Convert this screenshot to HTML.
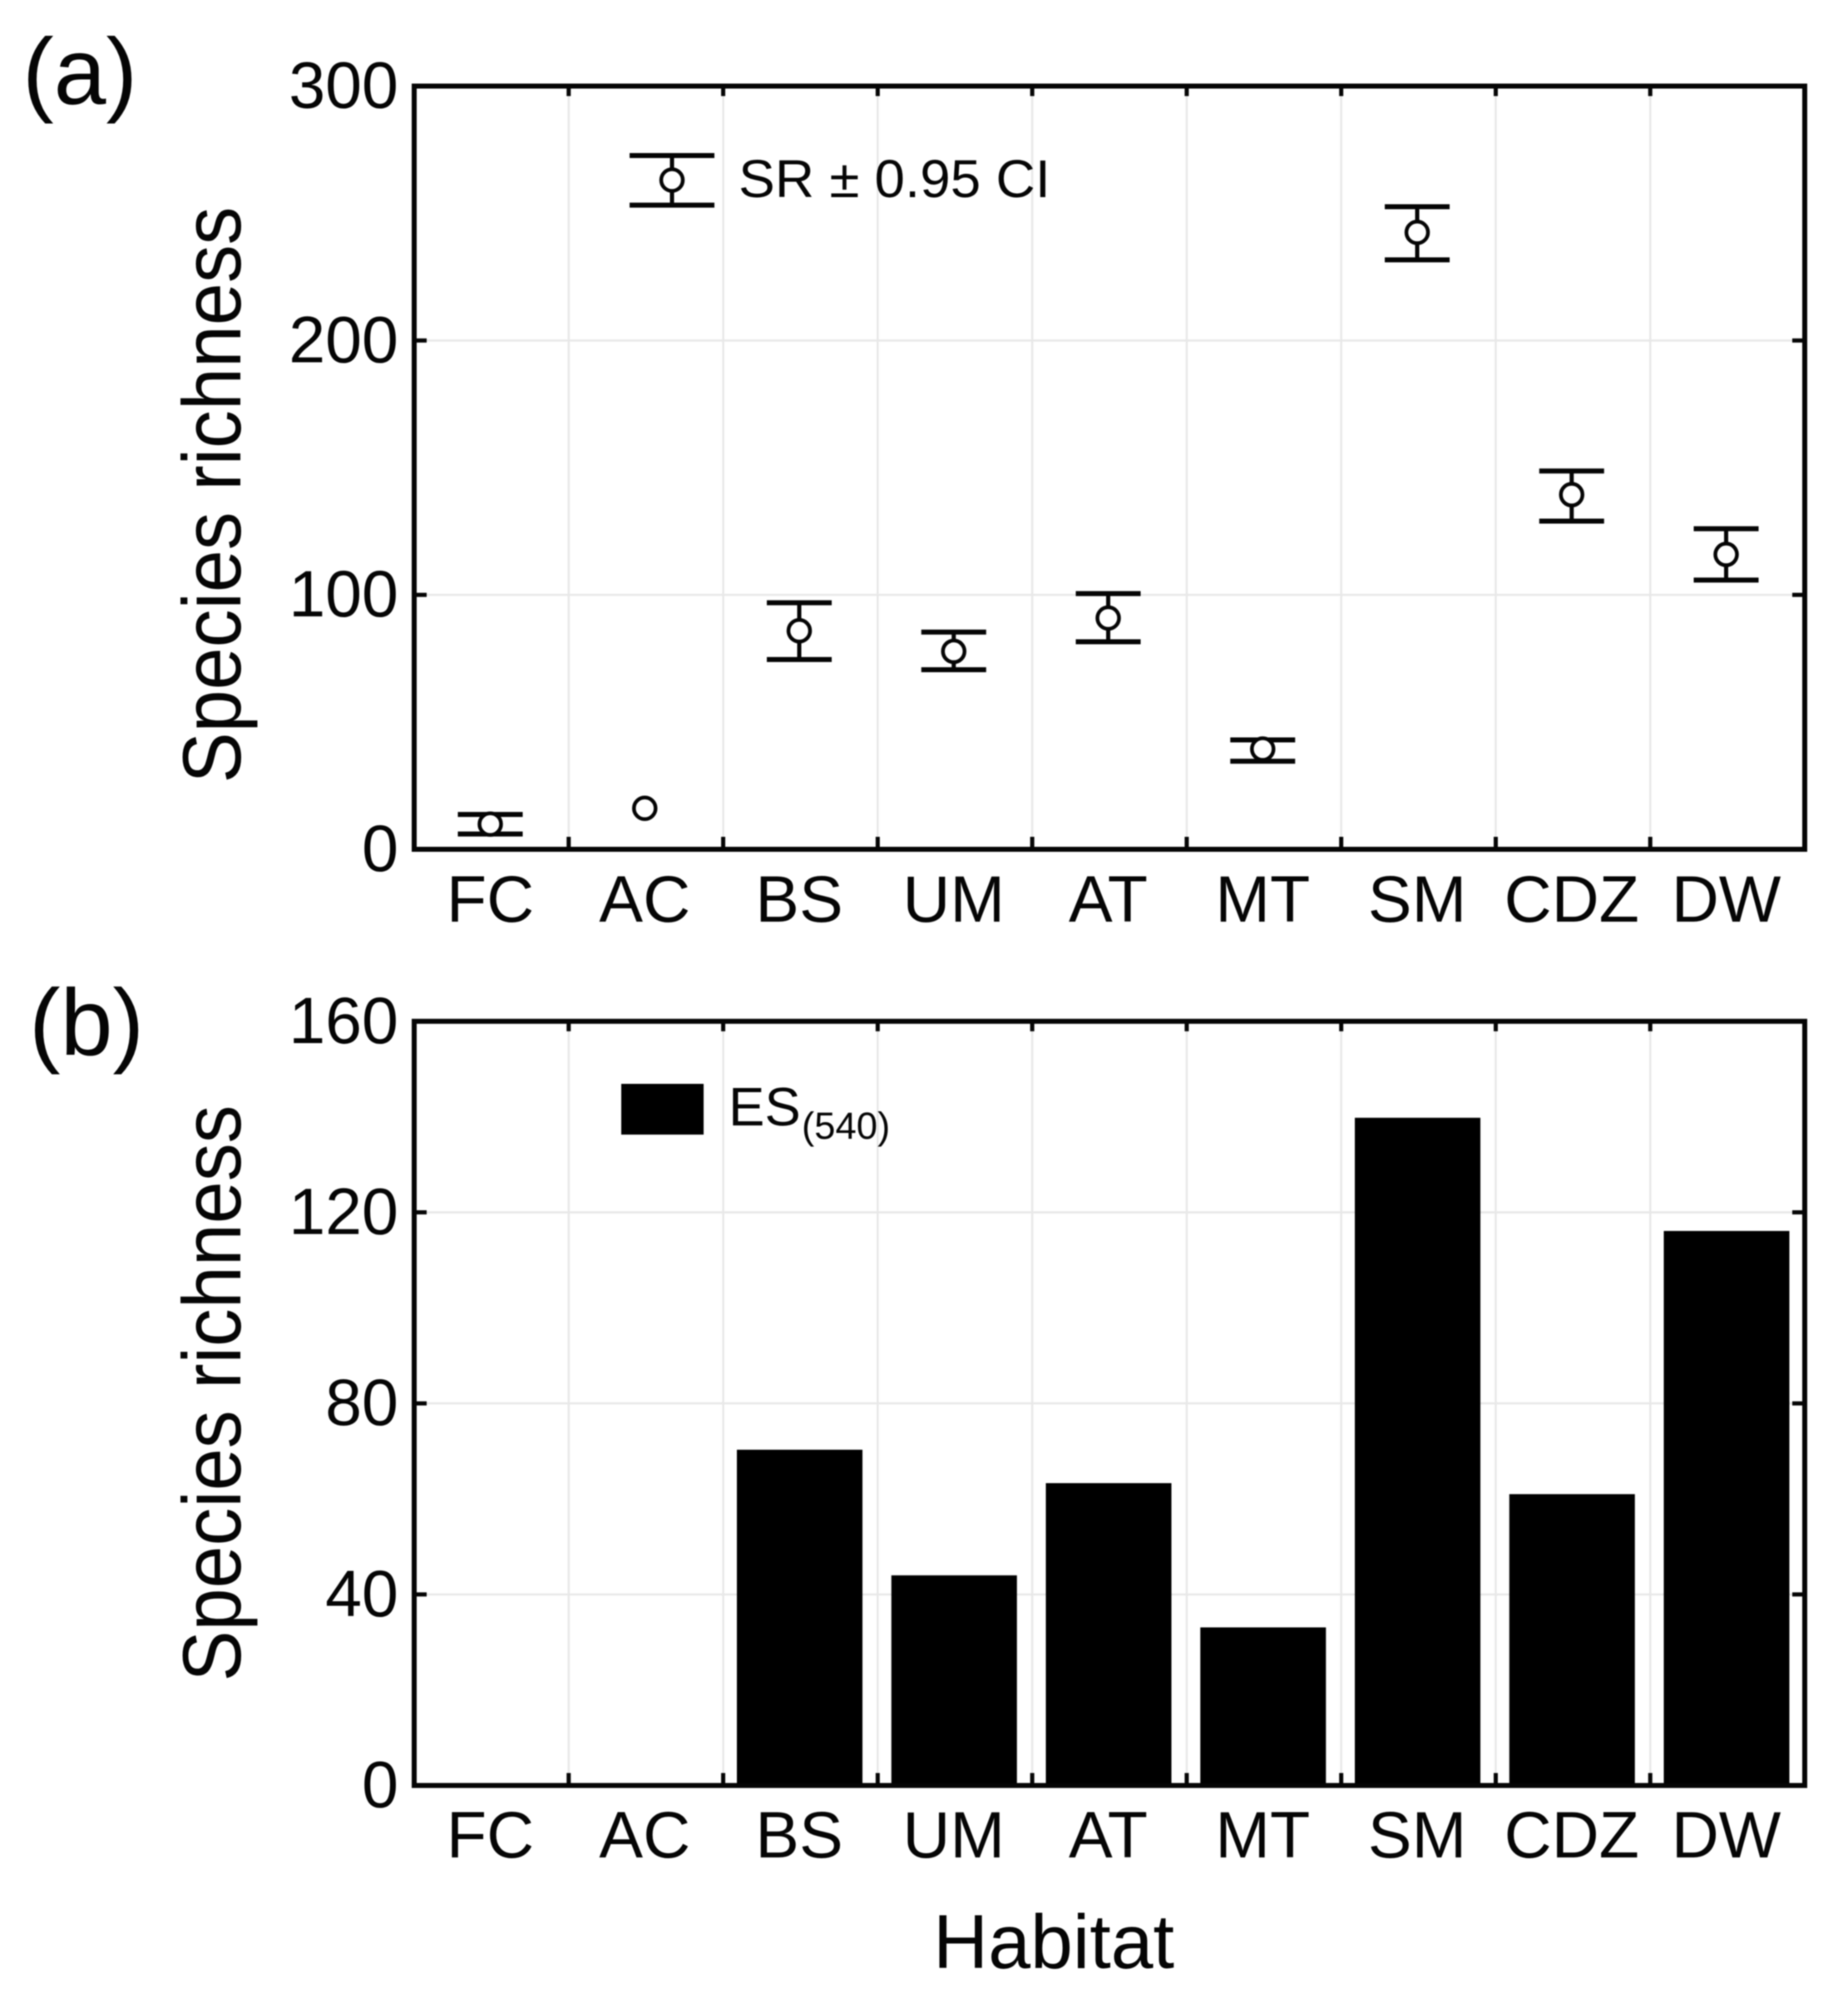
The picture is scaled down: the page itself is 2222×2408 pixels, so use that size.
<!DOCTYPE html>
<html lang="en">
<head>
<meta charset="utf-8">
<title>Species richness by habitat</title>
<style>
  html, body { margin: 0; padding: 0; background: #fff; }
  body { width: 2222px; height: 2408px; overflow: hidden; }
  svg { display: block; filter: blur(0.8px); }
  text { font-family: "Liberation Sans", Arial, sans-serif; fill: #050505; }
</style>
</head>
<body>
<svg id="figure" xmlns="http://www.w3.org/2000/svg" width="2222" height="2408" viewBox="0 0 2222 2408"></svg>
<script>
const categories = ['FC', 'AC', 'BS', 'UM', 'AT', 'MT', 'SM', 'CDZ', 'DW'];
const ticksA = [0, 100, 200, 300];
const ticksB = [0, 40, 80, 120, 160];
const srMean = [9.9, 16.1, 85.9, 77.8, 90.9, 39.4, 242.5, 139.4, 115.9];
const srHigh = [13.7, null, 96.9, 85.4, 100.5, 43, 252.6, 148.7, 126];
const srLow = [6, null, 74.6, 70.6, 81.6, 34.6, 231.7, 129, 105.8];
const es540 = [0, 0, 70.3, 44, 63.3, 33.1, 139.8, 61, 116.1];

const NS = 'http://www.w3.org/2000/svg';
const svg = document.getElementById('figure');
const INK = '#050505';
const GRID = '#e8e8e8';
const LEFT = 498;
const RIGHT = 2170;

function node(tag, attrs, parent) {
  const el = document.createElementNS(NS, tag);
  for (const k in attrs) el.setAttribute(k, attrs[k]);
  (parent || svg).appendChild(el);
  return el;
}
function xCenter(i) { return 589.5 + i * 185.75; }
function xBoundary(i) { return LEFT + i * (RIGHT - LEFT) / categories.length; }
function scaleY(top, bottom, max) {
  return function (v) { return bottom - (v / max) * (bottom - top); };
}
function line(x1, y1, x2, y2, stroke, width, parent) {
  return node('line', { x1: x1, y1: y1, x2: x2, y2: y2, stroke: stroke, 'stroke-width': width }, parent);
}

function drawAxes(panel, top, bottom, ticks, y, labelBaseline) {
  const g = node('g', {});
  
  

  ticks.slice(1, -1).forEach(function (t) {
    const gl = line(LEFT, y(t), RIGHT, y(t), GRID, 2.5, g);
    
    
  });
  categories.slice(1).forEach(function (c, i) {
    const gl = line(xBoundary(i + 1), top, xBoundary(i + 1), bottom, GRID, 2.5, g);
    
    
  });
  ticks.forEach(function (t) {
    const label = node('text', { x: 479, y: y(t) + 26, 'text-anchor': 'end', 'font-size': 79 }, g);
    label.textContent = String(t);
    
    
  });
  categories.forEach(function (c, i) {
    const label = node('text', { x: xCenter(i), y: labelBaseline, 'text-anchor': 'middle', 'font-size': 79 }, g);
    label.textContent = c;
    
    
  });
  return g;
}

function drawFrame(panel, top, bottom, ticks, y) {
  const g = node('g', {});
  
  
  ticks.slice(1, -1).forEach(function (t) {
    const a = line(LEFT, y(t), LEFT + 15, y(t), INK, 5, g);
    
    
    const b = line(RIGHT - 15, y(t), RIGHT, y(t), INK, 5, g);
    
    
  });
  categories.slice(1).forEach(function (c, i) {
    const a = line(xBoundary(i + 1), bottom, xBoundary(i + 1), bottom - 15, INK, 5, g);
    
    
    const b = line(xBoundary(i + 1), top, xBoundary(i + 1), top + 12, INK, 5, g);
    
    
  });
  const box = node('rect', { x: LEFT, y: top, width: RIGHT - LEFT, height: bottom - top, fill: 'none', stroke: INK, 'stroke-width': 6 }, g);
  
  
}

function drawWhisker(parent, cx, yHigh, yMean, yLow, capHalf) {
  if (yHigh !== null) {
    line(cx, yHigh, cx, yLow, INK, 5, parent);
    line(cx - capHalf, yHigh, cx + capHalf, yHigh, INK, 6, parent);
    line(cx - capHalf, yLow, cx + capHalf, yLow, INK, 6, parent);
  }
  node('circle', { cx: cx, cy: yMean, r: 13, fill: '#fff', stroke: INK, 'stroke-width': 4.5 }, parent);
}

/* Panel (a) */
const yA = scaleY(103.5, 1021, 300);
drawAxes('panel-a', 103.5, 1021, ticksA, yA, 1108);
categories.forEach(function (c, i) {
  const g = node('g', {});
  
  
  const hi = srHigh[i] === null ? null : yA(srHigh[i]);
  const lo = srLow[i] === null ? null : yA(srLow[i]);
  drawWhisker(g, xCenter(i), hi, yA(srMean[i]), lo, 39);
});
drawFrame('panel-a', 103.5, 1021, ticksA, yA);

const legendA = node('g', {});


drawWhisker(legendA, 808, 187, 216.5, 246.6, 51);
const legendAText = node('text', { x: 888, y: 237, 'font-size': 64, textLength: 375, lengthAdjust: 'spacingAndGlyphs' }, legendA);
legendAText.textContent = 'SR ± 0.95 CI';



/* Panel (b) */
const yB = scaleY(1227.8, 2146.5, 160);
drawAxes('panel-b', 1227.8, 2146.5, ticksB, yB, 2233);
categories.forEach(function (c, i) {
  if (es540[i] <= 0) return;
  const bar = node('rect', { x: xCenter(i) - 75, y: yB(es540[i]), width: 151, height: yB(0) - yB(es540[i]), fill: '#000' });
  
  
});
drawFrame('panel-b', 1227.8, 2146.5, ticksB, yB);

const legendB = node('g', {});


const legendSwatch = node('rect', { x: 747, y: 1303, width: 99, height: 61, fill: '#000' }, legendB);


const legendBText = node('text', { x: 876, y: 1353, 'font-size': 65 }, legendB);
legendBText.textContent = 'ES';


const legendBSub = node('text', { x: 964, y: 1369, 'font-size': 45.5 }, legendB);
legendBSub.textContent = '(540)';



/* Titles */
const titleA = node('text', { 'text-anchor': 'middle', 'font-size': 91.7, transform: 'translate(289 595) rotate(-90) scale(1 1.08)' });
titleA.textContent = 'Species richness';


const titleB = node('text', { 'text-anchor': 'middle', 'font-size': 91.7, transform: 'translate(289 1675) rotate(-90) scale(1 1.08)' });
titleB.textContent = 'Species richness';


const titleX = node('text', { x: 1267, y: 2366, 'text-anchor': 'middle', 'font-size': 91.5 });
titleX.textContent = 'Habitat';


const tagA = node('text', { x: 27, y: 125, 'font-size': 113 });
tagA.textContent = '(a)';


const tagB = node('text', { x: 35, y: 1268, 'font-size': 113 });
tagB.textContent = '(b)';


</script>
</body>
</html>
